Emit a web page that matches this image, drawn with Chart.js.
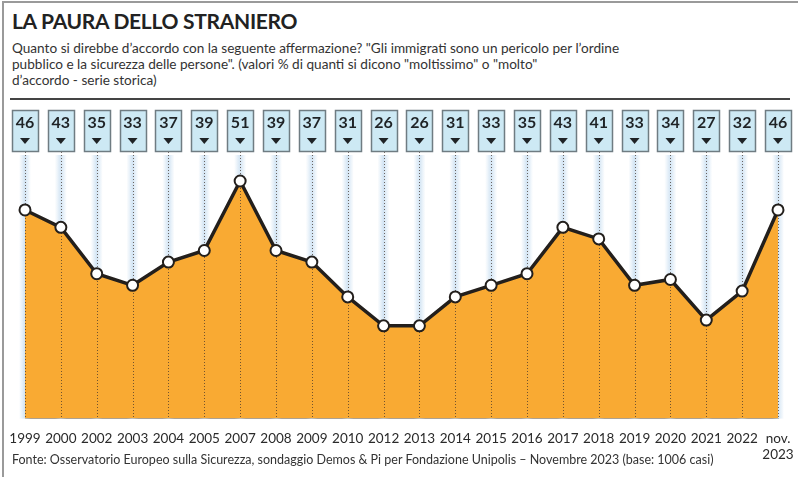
<!DOCTYPE html>
<html>
<head>
<meta charset="utf-8">
<script src="https://cdn.jsdelivr.net/npm/chart.js@4/dist/chart.umd.min.js"></script>
<style>
	body { margin: 0; background: #fff; font-family: Lato, sans-serif; }
	#frame { position: absolute; left: 2px; top: 1px; width: 794px; height: 480px; border-left: 2px solid #9a9a9a; border-top: 2px solid #9a9a9a; }
	#title { position: absolute; left: 12px; top: 8px; font-size: 21px; font-weight: bold; color: #222; letter-spacing: -0.3px; }
	#sub { position: absolute; left: 12px; top: 40px; font-size: 13.6px; line-height: 16px; color: #333; }
	#rule { position: absolute; left: 10px; top: 98px; width: 780px; height: 2px; background: #444; }
	#box { position: absolute; left: 0; top: 104px; width: 800px; height: 364px; }
	#foot { position: absolute; left: 12px; top: 452px; font-size: 12.5px; color: #333; }
</style>
</head>
<body>
<div id="frame"></div>
<div id="title">LA PAURA DELLO STRANIERO</div>
<div id="sub">Quanto si direbbe d’accordo con la seguente affermazione? "Gli immigrati sono un pericolo per l’ordine<br>pubblico e la sicurezza delle persone". (valori % di quanti si dicono "moltissimo" o "molto"<br>d’accordo - serie storica)</div>
<div id="rule"></div>
<div id="box"><canvas id="chart"></canvas></div>
<div id="foot">Fonte: Osservatorio Europeo sulla Sicurezza, sondaggio Demos &amp; Pi per Fondazione Unipolis – Novembre 2023 (base: 1006 casi)</div>
<script>
const years = ['1999', '2000', '2002', '2003', '2004', '2005', '2007', '2008', '2009', '2010', '2012',
	'2013', '2014', '2015', '2016', '2017', '2018', '2019', '2020', '2021', '2022', ['nov.', '2023']];
const values = [46, 43, 35, 33, 37, 39, 51, 39, 37, 31, 26, 26, 31, 33, 35, 43, 41, 33, 34, 27, 32, 46];

// light blue columns behind the area
const bands = {
	id: 'bands',
	beforeDatasetsDraw(chart) {
		let ctx = chart.ctx;
		let x = chart.scales.x;
		let area = chart.chartArea;
		ctx.save();
		values.forEach(function(v, i) {
			let px = x.getPixelForValue(i);
			let g = ctx.createLinearGradient(px - 6, 0, px + 6, 0);
			g.addColorStop(0, 'rgba(205,225,242,0)');
			g.addColorStop(0.5, 'rgba(205,225,242,0.9)');
			g.addColorStop(1, 'rgba(205,225,242,0)');
			ctx.fillStyle = g;
			ctx.fillRect(px - 6, area.top + 3, 12, area.bottom - area.top - 3);
		});
		ctx.restore();
	},
	afterDatasetDraw(chart, args) {
		if (args.index !== 1) return;
		let ctx = chart.ctx;
		let x = chart.scales.x;
		let area = chart.chartArea;
		ctx.save();
		ctx.strokeStyle = 'rgba(70,55,45,0.75)';
		ctx.lineWidth = 1;
		ctx.setLineDash([1, 2]);
		values.forEach(function(v, i) {
			let px = Math.round(x.getPixelForValue(i)) + 0.5;
			ctx.beginPath();
			ctx.moveTo(px, area.top);
			ctx.lineTo(px, area.bottom);
			ctx.stroke();
		});
		ctx.restore();
	},
	afterDraw(chart) {
		let ctx = chart.ctx;
		let x = chart.scales.x;
		ctx.save();
		values.forEach(function(v, i) {
			let px = x.getPixelForValue(i);
			let left = Math.round(px - 13) + 0.5;
			ctx.fillStyle = '#cde9f4';
			ctx.strokeStyle = '#6f7c82';
			ctx.lineWidth = 1.5;
			ctx.fillRect(left, 6.5, 26, 41);
			ctx.strokeRect(left, 6.5, 26, 41);
			ctx.fillStyle = '#1f2326';
			ctx.font = 'bold 16px Lato';
			ctx.textAlign = 'center';
			ctx.textBaseline = 'middle';
			ctx.fillText(String(v), px, 19);
			ctx.beginPath();
			ctx.moveTo(px - 5, 34);
			ctx.lineTo(px + 5, 34);
			ctx.lineTo(px, 40);
			ctx.closePath();
			ctx.fill();
		});
		ctx.restore();
	}
};

new Chart(document.getElementById('chart').getContext('2d'), {
	type: 'line',
	data: {
		labels: years,
		datasets: [
			{
				data: values,
				borderColor: '#231f1c',
				borderWidth: 3.5,
				tension: 0,
				fill: false,
				pointRadius: 5.5,
				pointBorderWidth: 2,
				pointBackgroundColor: '#ffffff',
				pointBorderColor: '#231f1c',
			},
			{
				data: values,
				borderWidth: 0,
				pointRadius: 0,
				fill: 'start',
				backgroundColor: '#f9aa33',
			},
		],
	},
	options: {
		responsive: true,
		maintainAspectRatio: false,
		animation: false,
		layout: { padding: { top: 48, bottom: 3, left: 25, right: 22 } },
		plugins: { legend: { display: false }, tooltip: { enabled: false } },
		scales: {
			x: {
				offset: false,
				grid: { display: true, drawOnChartArea: false, drawTicks: true, tickLength: 10, tickColor: 'rgba(0,0,0,0)' },
				border: { display: true, color: '#a0a0a0', dash: [1, 1], width: 1 },
				ticks: { color: '#2a2a2a', padding: 2, font: { family: 'Lato', size: 13.5 }, maxRotation: 0, autoSkip: false },
			},
			y: { display: false, min: 10, max: 56 },
		},
	},
	plugins: [bands],
});
</script>
</body>
</html>
